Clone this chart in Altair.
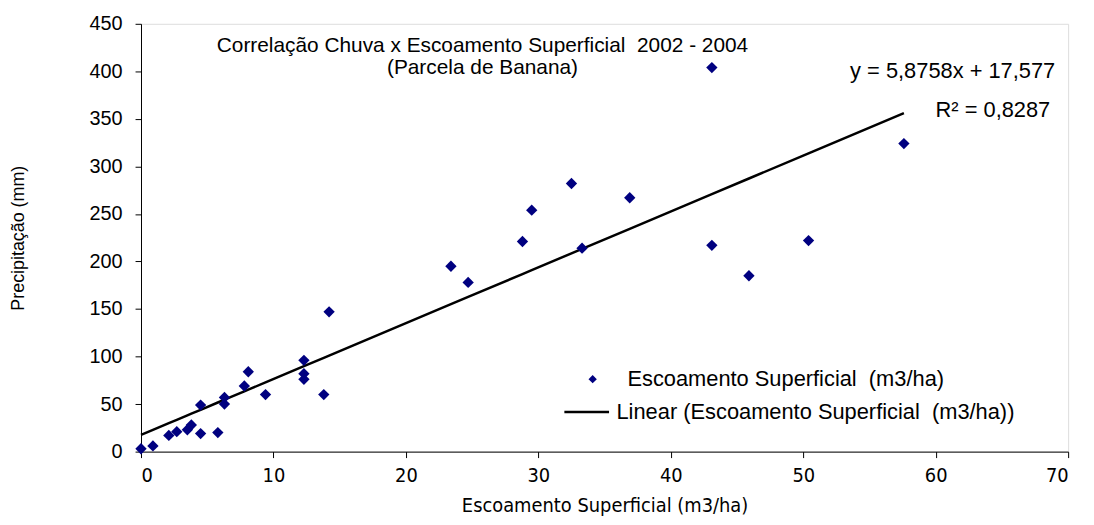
import altair as alt
import pandas as pd

# Escoamento Superficial (m3/ha) vs Precipitação (mm)
escoamento = [0.0, 0.9, 2.1, 2.7, 3.5, 3.8, 4.5, 5.8, 4.5, 6.3, 6.3, 7.8, 8.1, 9.4,
              12.3, 12.3, 12.3, 13.8, 14.2, 23.4, 24.7, 28.8, 29.5, 32.5, 33.3, 36.9,
              43.1, 57.6, 43.1, 50.4, 45.9]
precipitacao = [3, 6, 17, 21, 23, 28, 19, 20, 49, 57, 50, 69, 84, 60,
                96, 82, 76, 60, 147, 195, 178, 221, 254, 282, 214, 267,
                404, 324, 217, 222, 185]

# Linear trend as reported on the chart
slope = 5.8758
intercept = 17.577

NB = "\u00a0"  # keeps the double spaces of the original labels
serie_pontos = f"Escoamento Superficial {NB}(m3/ha)"
serie_linha = f"Linear (Escoamento Superficial {NB}(m3/ha))"
titulo1 = f"Correlação Chuva x Escoamento Superficial {NB}2002 - 2004"
titulo2 = "(Parcela de Banana)"
equacao = "y = 5,8758x + 17,577"
r2 = "R² = 0,8287"

x_ticks = [0, 10, 20, 30, 40, 50, 60, 70]
y_ticks = [0, 50, 100, 150, 200, 250, 300, 350, 400, 450]

df = pd.DataFrame({"x": escoamento, "y": precipitacao})
df["serie"] = serie_pontos

FONT = "Liberation Sans"
NARROW = "Liberation Sans Narrow, Arial Narrow, DejaVu Sans Condensed, sans-serif"
FS = 22

x_scale = alt.Scale(domain=[0, 70], nice=False, zero=False)
y_scale = alt.Scale(domain=[0, 450], nice=False, zero=False)

x_axis = alt.Axis(values=x_ticks, title="Escoamento Superficial (m3/ha)", grid=False,
                  domainColor="black", tickColor="black", tickSize=6,
                  labelFont=NARROW, labelFontSize=20, labelColor="black", labelPadding=8,
                  titleFont=NARROW, titleFontSize=20, titleFontWeight="normal",
                  titleColor="black", titlePadding=10)
y_axis = alt.Axis(values=y_ticks, title="Precipitação (mm)", grid=False,
                  domainColor="black", tickColor="black", tickSize=6,
                  labelFont=FONT, labelFontSize=20, labelColor="black", labelPadding=13,
                  titleFont=FONT, titleFontSize=18, titleFontWeight="normal",
                  titleColor="black", titlePadding=62)

pontos = alt.Chart(df).mark_point(shape="diamond", filled=True, size=130, opacity=1).encode(
    x=alt.X("x:Q", scale=x_scale, axis=x_axis),
    y=alt.Y("y:Q", scale=y_scale, axis=y_axis),
    color=alt.Color("serie:N",
                    scale=alt.Scale(domain=[serie_pontos], range=["#000080"]),
                    legend=alt.Legend(title=None, orient="none", legendX=444, legendY=347,
                                      symbolSize=70, symbolType="diamond",
                                      labelFont=FONT, labelFontSize=FS, labelColor="black",
                                      labelOffset=24, labelLimit=0, padding=0)),
)

linha = alt.Chart(df).transform_calculate(
    fit=f"{slope} * datum.x + {intercept}",
    serie2=f"'{serie_linha}'",
).mark_line(strokeWidth=2.5).encode(
    x=alt.X("x:Q", scale=x_scale),
    y=alt.Y("fit:Q", scale=y_scale),
    color=alt.Color("serie2:N",
                    scale=alt.Scale(domain=[serie_linha], range=["black"]),
                    legend=alt.Legend(title=None, orient="none", legendX=425, legendY=367,
                                      symbolSize=2025, symbolStrokeWidth=2.5,
                                      labelFont=FONT, labelFontSize=FS, labelColor="black",
                                      labelOffset=6, labelLimit=0, padding=0)),
)

def anotacao(texto, px, py, align, fs=FS):
    return alt.Chart(pd.DataFrame({"t": [texto]})).mark_text(
        font=FONT, fontSize=fs, color="black", align=align, baseline="middle"
    ).encode(x=alt.value(px), y=alt.value(py), text="t:N")

chart = alt.layer(
    linha, pontos,
    anotacao(titulo1, 344, 22, "center", 21),
    anotacao(titulo2, 344, 45, "center", 21),
    anotacao(equacao, 921, 48, "right"),
    anotacao(r2, 916, 87, "right"),
).resolve_scale(color="independent").resolve_legend(color="independent").properties(
    width=934, height=431,
    autosize=alt.AutoSizeParams(type="none"),
    padding={"left": 134, "top": 14, "right": 18, "bottom": 72},
).configure_view(stroke="#888888", strokeWidth=1).configure(background="white")

chart.save("out.html", embed_options={"renderer": "svg", "actions": False})
